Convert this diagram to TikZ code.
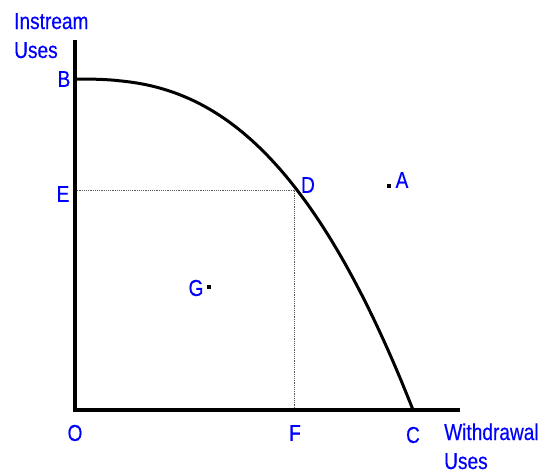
\documentclass[tikz,border=0pt]{standalone}
\usepackage{fontspec}
\setmainfont{Liberation Sans}[FakeStretch=0.83,FakeBold=0.4]
\begin{document}
\begin{tikzpicture}[x=1pt,y=-1pt,
  lbl/.style={text=blue,font=\fontsize{23}{29}\selectfont,inner sep=0pt},
  axisline/.style={line width=3.8pt,line cap=rect},
  curveline/.style={line width=3pt},
  guide/.style={line width=0.8pt,gray!70!black,dash pattern=on 1.2pt off 1pt},
  dotmark/.style={fill=black,inner sep=0pt,minimum size=3.8pt,rectangle}]
\useasboundingbox (0,0) rectangle (547,472);
\coordinate (O) at (75,410);
\coordinate (Top) at (75,42);
\coordinate (Xend) at (458,410);
\coordinate (B) at (75,79);
\coordinate (C) at (413,410);
\coordinate (D) at (294,190);
\coordinate (E) at (75,190);
\coordinate (F) at (294,410);
\draw[guide] (E) -- (D) -- (F);
\draw[axisline] (Top) -- (O) -- (Xend);
\draw[curveline] (B) -- plot[smooth,domain=0.5:338,samples=120] ({75+\x},{79+331*(\x/338)^2.6}) -- (C);
\node[dotmark] (dA) at (389,186) {};
\node[dotmark] (dG) at (209,287) {};
\node[lbl,anchor=base west] (ins1) at (14,29) {Instream};
\node[lbl,anchor=base west] (ins2) at (14,58) {Uses};
\node[lbl,anchor=base west] (wd1) at (444,440) {Withdrawal};
\node[lbl,anchor=base west] (wd2) at (444,469) {Uses};
\node[lbl] (lB) at (64,79) {B};
\node[lbl] (lE) at (63,194) {E};
\node[lbl] (lD) at (308,185) {D};
\node[lbl] (lA) at (402,180) {A};
\node[lbl] (lG) at (196,288) {G};
\node[lbl] (lO) at (75,433) {O};
\node[lbl] (lF) at (295,433) {F};
\node[lbl] (lC) at (413,435) {C};
\end{tikzpicture}
\end{document}
